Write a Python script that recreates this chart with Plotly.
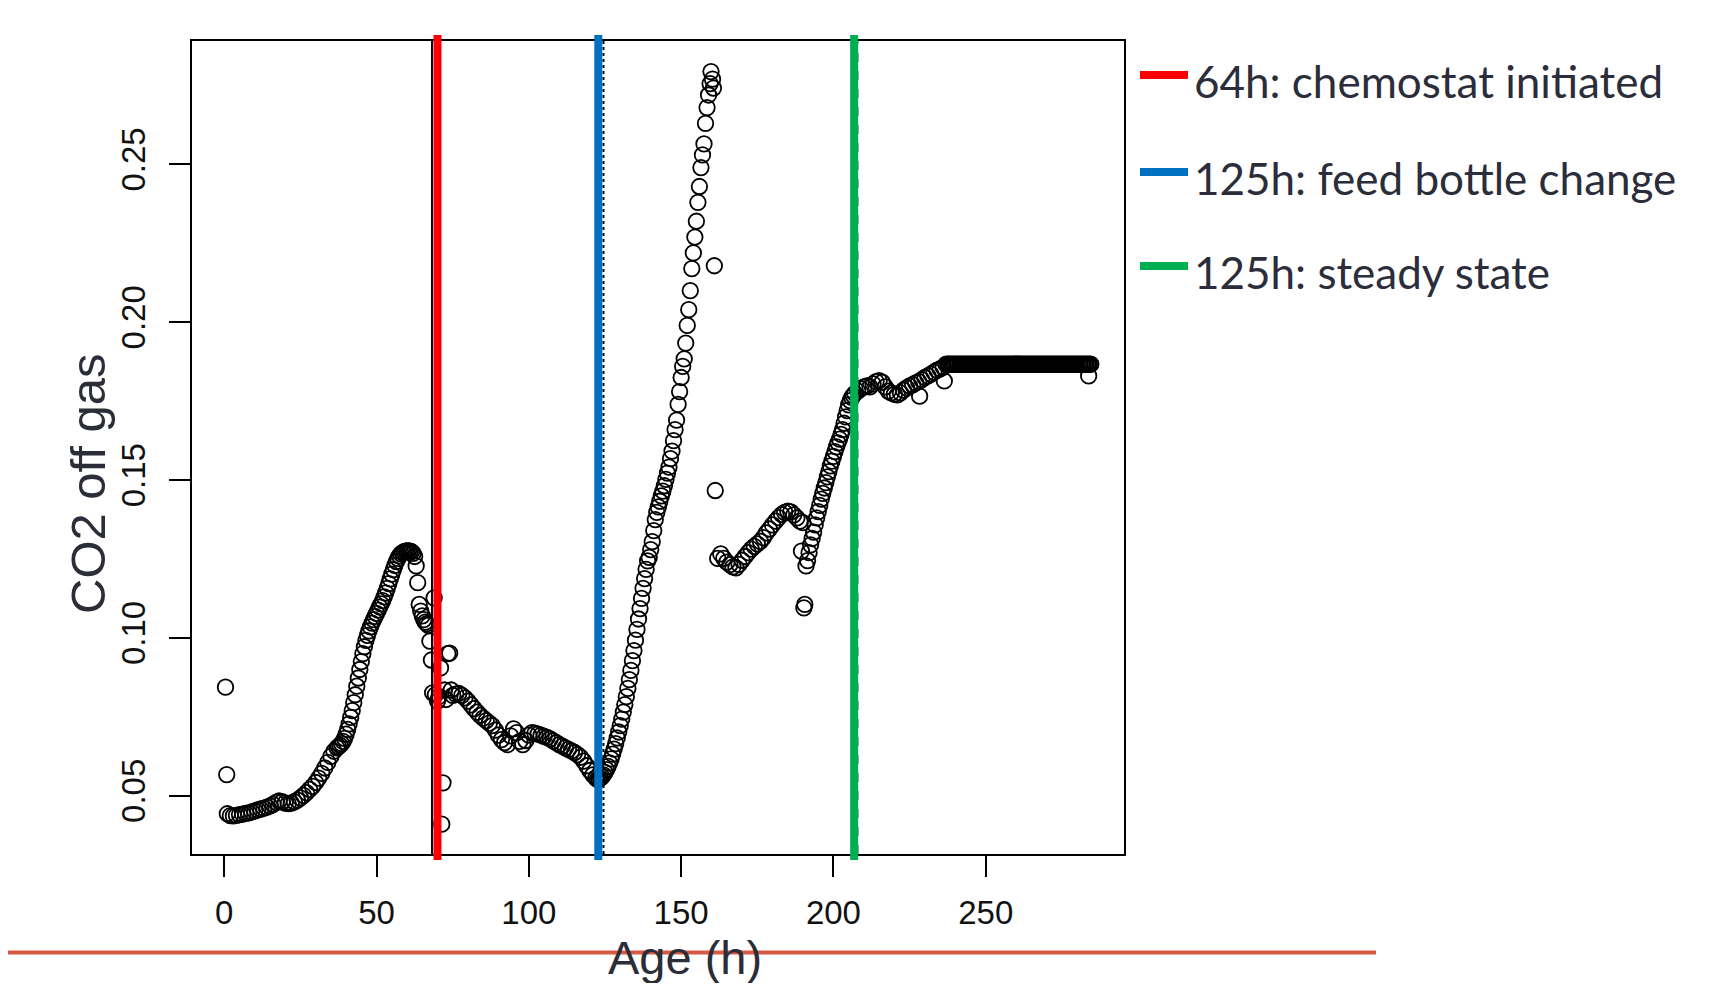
import plotly.graph_objects as go

# ---------------- data ----------------
# regularly sampled stretches: (start age h, sampling step h, CO2 readings)
batch_early_start, batch_early_step = 1.0, 1.0
batch_early_co2 = [0.0443, 0.0437, 0.0436, 0.0438, 0.0440, 0.0442, 0.0444, 0.0446, 0.0449, 0.0452,
                   0.0455, 0.0458, 0.0461, 0.0464, 0.0468, 0.0473, 0.0479, 0.0484, 0.0481, 0.0477,
                   0.0475, 0.0477, 0.0481, 0.0486, 0.0493, 0.0501, 0.0510, 0.0520, 0.0530, 0.0542,
                   0.0556, 0.0571, 0.0588, 0.0606, 0.0625, 0.0641, 0.0652]

batch_peak_start, batch_peak_step = 37.5, 0.5
batch_peak_co2 = [0.0656, 0.0660, 0.0665, 0.0672, 0.0682, 0.0695, 0.0710, 0.0728, 0.0748, 0.0770,
                  0.0795, 0.0820, 0.0847, 0.0873, 0.0900, 0.0925, 0.0950, 0.0972, 0.0992, 0.1008,
                  0.1022, 0.1035, 0.1047, 0.1058, 0.1068, 0.1078, 0.1088, 0.1098, 0.1108, 0.1118,
                  0.1130, 0.1143, 0.1157, 0.1172, 0.1187, 0.1202, 0.1216, 0.1230, 0.1242, 0.1252,
                  0.1260, 0.1266, 0.1270, 0.1273, 0.1275, 0.1276, 0.1276, 0.1275, 0.1273, 0.1268,
                  0.1258]

decline_start, decline_step = 76.0, 1.0
decline_co2 = [0.0822, 0.0824, 0.0818, 0.0810, 0.0800, 0.0788, 0.0776, 0.0765, 0.0755, 0.0746,
               0.0738, 0.0730, 0.0722, 0.0708, 0.0692, 0.0678, 0.0668, 0.0662, 0.0690, 0.0712,
               0.0700, 0.0672, 0.0662, 0.0675, 0.0692, 0.0700, 0.0698, 0.0695, 0.0692, 0.0688,
               0.0685, 0.0680, 0.0674, 0.0668, 0.0662, 0.0657, 0.0652, 0.0647, 0.0642, 0.0637,
               0.0630, 0.0622, 0.0610, 0.0595, 0.0580, 0.0566, 0.0556]

rise_start, rise_step = 122.5, 0.5
rise_co2 = [0.0552,
            0.0553, 0.0556, 0.0560, 0.0566, 0.0574, 0.0583, 0.0593, 0.0604, 0.0617, 0.0632,
            0.0648, 0.0665, 0.0683, 0.0702, 0.0722, 0.0743, 0.0765, 0.0789, 0.0814, 0.0840,
            0.0868, 0.0897, 0.0928, 0.0960, 0.0993, 0.1027, 0.1060, 0.1093, 0.1125, 0.1157,
            0.1188, 0.1217, 0.1244, 0.1255, 0.1280, 0.1305, 0.1340, 0.1375, 0.1398, 0.1415,
            0.1433, 0.1450, 0.1465, 0.1482, 0.1502, 0.1522, 0.1541, 0.1568, 0.1592, 0.1625,
            0.1660, 0.1690, 0.1740, 0.1780, 0.1825, 0.1860, 0.1884, 0.1934, 0.1990, 0.2040,
            0.2100, 0.2170, 0.2220, 0.2270, 0.2320, 0.2380, 0.2430, 0.2490, 0.2530, 0.2565,
            0.2630, 0.2680, 0.2720, 0.2756]

second_start, second_step = 162.0, 1.0
second_co2 = [0.1252, 0.1266, 0.1252, 0.1240, 0.1232, 0.1225, 0.1222, 0.1233, 0.1246, 0.1258,
              0.1270, 0.1281, 0.1290, 0.1298, 0.1306, 0.1318, 0.1333, 0.1345, 0.1358, 0.1370,
              0.1381, 0.1391, 0.1398, 0.1402, 0.1399, 0.1390, 0.1380, 0.1370, 0.1365]

approach_start, approach_step = 191.0, 0.5
approach_co2 = [0.1228, 0.1245, 0.1270, 0.1295, 0.1315, 0.1335, 0.1358, 0.1380, 0.1400, 0.1420,
                0.1440, 0.1458, 0.1475, 0.1492, 0.1510, 0.1527, 0.1545, 0.1560, 0.1575, 0.1590,
                0.1605, 0.1618, 0.1630, 0.1645, 0.1660, 0.1680, 0.1700, 0.1720, 0.1738, 0.1752,
                0.1762, 0.1768, 0.1775]

settle_start, settle_step = 208.0, 1.0
settle_co2 = [0.1782, 0.1790, 0.1795, 0.1798, 0.1795, 0.1805, 0.1812, 0.1815, 0.1810, 0.1795,
              0.1782, 0.1776, 0.1772, 0.1770, 0.1776, 0.1785, 0.1792, 0.1798, 0.1802, 0.1808,
              0.1812, 0.1818, 0.1825, 0.1830, 0.1836, 0.1842, 0.1848, 0.1852, 0.1858]

steady_start, steady_step = 237.0, 0.5
steady_co2 = [0.1867, 0.1867, 0.1867, 0.1867, 0.1867, 0.1867, 0.1867, 0.1867, 0.1867, 0.1867, 0.1867, 0.1867,
              0.1867, 0.1867, 0.1867, 0.1867, 0.1867, 0.1867, 0.1867, 0.1867, 0.1867, 0.1867, 0.1867, 0.1867,
              0.1867, 0.1867, 0.1867, 0.1867, 0.1867, 0.1867, 0.1867, 0.1867, 0.1867, 0.1867, 0.1867, 0.1867,
              0.1867, 0.1867, 0.1867, 0.1867, 0.1867, 0.1867, 0.1867, 0.1867, 0.1867, 0.1867, 0.1867, 0.1867,
              0.1867, 0.1867, 0.1867, 0.1867, 0.1867, 0.1867, 0.1867, 0.1867, 0.1867, 0.1867, 0.1867, 0.1867,
              0.1867, 0.1867, 0.1867, 0.1867, 0.1867, 0.1867, 0.1867, 0.1867, 0.1867, 0.1867, 0.1867, 0.1867,
              0.1867, 0.1867, 0.1867, 0.1867, 0.1867, 0.1867, 0.1867, 0.1867, 0.1867, 0.1867, 0.1867, 0.1867,
              0.1867, 0.1867, 0.1867, 0.1867, 0.1867, 0.1867, 0.1867, 0.1867, 0.1867, 0.1867, 0.1867, 0.1867]

# irregular / outlying readings
scatter_age = [0.4, 0.8, 63.0, 63.5, 64.0, 64.5, 65.0, 65.5, 66.0, 66.5, 67.0, 67.5, 68.0, 68.4,
               68.9, 69.3, 70.0, 70.5, 71.0, 71.4, 71.8, 72.3, 72.8, 73.4, 74.0, 74.5, 75.0,
               159.8, 160.3, 160.6, 160.9, 161.2, 189.5, 190.3, 190.6, 228.3, 236.4, 283.8]
scatter_co2 = [0.0844, 0.0567, 0.1228, 0.1175, 0.1106, 0.1085, 0.1070, 0.1058, 0.1050, 0.1045,
               0.1040, 0.0990, 0.0930, 0.0826, 0.1127, 0.0820, 0.0800, 0.0815, 0.0905, 0.0410,
               0.0541, 0.0835, 0.0805, 0.0950, 0.0952, 0.0835, 0.0818,
               0.2794, 0.2770, 0.2742, 0.2179, 0.1467, 0.1275, 0.1095, 0.1106, 0.1766, 0.1814, 0.1830]

# event markers
event_labels = ["64h: chemostat initiated", "125h: feed bottle change", "125h: steady state"]
event_colors = ["#FF0000", "#0070C0", "#00B050"]
event_age = [70.0, 122.8, 206.8]          # coloured overlay lines
guide_age = [68.2, 124.5, 207.9]          # thin reference lines from the original plot
guide_dash = ["solid", "dot", "dash"]
guide_color = ["#000000", "#000000", "#555555"]

x_ticks = [0, 50, 100, 150, 200, 250]
y_ticks = [0.05, 0.10, 0.15, 0.20, 0.25]
y_tick_text = ["0.05", "0.10", "0.15", "0.20", "0.25"]
x_range = [-10.6, 295.4]
y_range = [0.03155, 0.2891]

# ---------------- assemble ----------------
segments = [
    (batch_early_start, batch_early_step, batch_early_co2),
    (batch_peak_start, batch_peak_step, batch_peak_co2),
    (decline_start, decline_step, decline_co2),
    (rise_start, rise_step, rise_co2),
    (second_start, second_step, second_co2),
    (approach_start, approach_step, approach_co2),
    (settle_start, settle_step, settle_co2),
    (steady_start, steady_step, steady_co2),
]
ages, co2 = [], []
for start, step, vals in segments:
    ages += [start + i * step for i in range(len(vals))]
    co2 += list(vals)
ages += scatter_age
co2 += scatter_co2

# page body has an 8px margin: the figure is drawn 8px right/down of the screen origin
OFF = 8
W, H = 1717 - 2 * OFF, 991 - 2 * OFF
# plot box in screen pixels: left 192, right 1124, top 41, bottom 854
L, T = 192 - OFF, 41 - OFF
R = W - (1124 - OFF)
B = H - (854 - OFF)
PW, PH = W - L - R, H - T - B


def px_x(p):
    return (p - OFF - L) / PW


def px_y(p):
    return (H - B - (p - OFF)) / PH


fig = go.Figure()
fig.add_trace(go.Scatter(
    x=ages, y=co2, mode="markers", showlegend=False,
    marker=dict(symbol="circle-open", size=15.5, color="black", line=dict(width=1.8, color="black")),
))

shapes = []
for a, d, c in zip(guide_age, guide_dash, guide_color):
    shapes.append(dict(type="line", xref="x", yref="paper", x0=a, x1=a, y0=0, y1=1,
                       line=dict(color=c, width=2, dash=d), layer="above"))
ext = 6 / PH
for a, c in zip(event_age, event_colors):
    shapes.append(dict(type="line", xref="x", yref="paper", x0=a, x1=a, y0=-ext, y1=1 + ext,
                       line=dict(color=c, width=8), layer="above"))

legend_rows_px = [75, 172, 266]
annotations = []
for lab, c, yp in zip(event_labels, event_colors, legend_rows_px):
    shapes.append(dict(type="line", xref="paper", yref="paper", x0=px_x(1140), x1=px_x(1188),
                       y0=px_y(yp), y1=px_y(yp), line=dict(color=c, width=8)))
    annotations.append(dict(text=lab, xref="paper", yref="paper", x=px_x(1192), y=px_y(yp + 6),
                            xanchor="left", yanchor="middle", showarrow=False,
                            font=dict(family="Lato, Carlito, Calibri, sans-serif", size=44, color="#2B2D3A")))

# slide rule line
shapes.append(dict(type="line", xref="paper", yref="paper", x0=px_x(0), x1=px_x(1376),
                   y0=px_y(952.5), y1=px_y(952.5), line=dict(color="#D65A45", width=4), layer="below"))

annotations.append(dict(text="Age (h)", xref="paper", yref="paper", x=px_x(685), y=px_y(957),
                        xanchor="center", yanchor="middle", showarrow=False,
                        font=dict(family="Liberation Sans, Arial, sans-serif", size=47, color="#2B2D38")))
annotations.append(dict(text="CO2 off gas", xref="paper", yref="paper", x=px_x(88), y=px_y(484),
                        xanchor="center", yanchor="middle", showarrow=False, textangle=-90,
                        font=dict(family="Liberation Sans, Arial, sans-serif", size=49, color="#2B2D38")))

tick_font = dict(family="Liberation Sans, Arial, sans-serif", size=33, color="#111111")
fig.update_layout(
    width=W, height=H, margin=dict(l=L, r=R, t=T, b=B, pad=0),
    paper_bgcolor="white", plot_bgcolor="white",
    shapes=shapes, annotations=annotations, showlegend=False,
    xaxis=dict(range=x_range, tickvals=x_ticks, ticks="outside", ticklen=21, tickwidth=2,
               tickcolor="black", showline=True, mirror=True, linecolor="black", linewidth=2,
               showgrid=False, zeroline=False, tickfont=tick_font, ticklabelstandoff=7),
    yaxis=dict(range=y_range, tickvals=y_ticks, ticktext=y_tick_text, tickangle=-90,
               ticks="outside", ticklen=21, tickwidth=2, tickcolor="black", showline=True,
               mirror=True, linecolor="black", linewidth=2, showgrid=False, zeroline=False,
               tickfont=tick_font, ticklabelstandoff=11),
)

fig.write_html("out.html")
